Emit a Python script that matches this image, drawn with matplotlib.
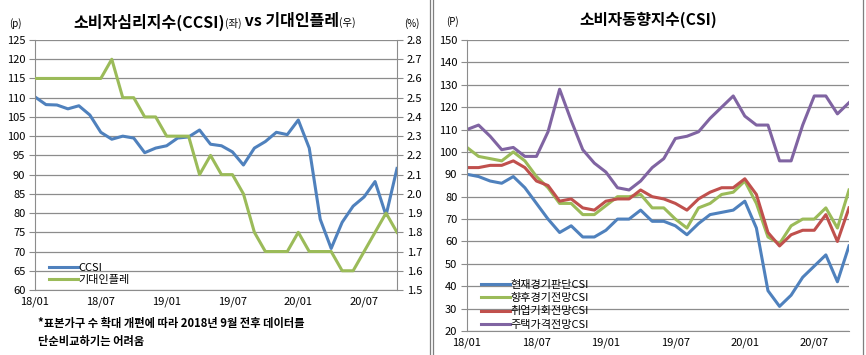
import matplotlib
matplotlib.use("Agg")
import matplotlib.pyplot as plt
import numpy as np

plt.rcParams['font.family'] = ['Noto Sans CJK KR', 'DejaVu Sans']

# months 2018/01 .. 2020/10
months = np.arange(34)
tick_pos = [0, 6, 12, 18, 24, 30]
tick_labels = ['18/01', '18/07', '19/01', '19/07', '20/01', '20/07']

ccsi = [110.2, 108.2, 108.1, 107.1, 107.9, 105.5, 101.0, 99.2, 100.0, 99.5, 95.7, 96.9,
        97.5, 99.5, 99.8, 101.6, 97.9, 97.5, 95.9, 92.5, 96.9, 98.6, 101.0, 100.4,
        104.2, 96.9, 78.4, 70.8, 77.6, 81.8, 84.2, 88.2, 79.4, 91.6]
exp_infl = [2.6, 2.6, 2.6, 2.6, 2.6, 2.6, 2.6, 2.7, 2.5, 2.5, 2.4, 2.4,
            2.3, 2.3, 2.3, 2.1, 2.2, 2.1, 2.1, 2.0, 1.8, 1.7, 1.7, 1.7,
            1.8, 1.7, 1.7, 1.7, 1.6, 1.6, 1.7, 1.8, 1.9, 1.8]

cur_econ = [90, 89, 87, 86, 89, 84, 77, 70, 64, 67, 62, 62,
            65, 70, 70, 74, 69, 69, 67, 63, 68, 72, 73, 74,
            78, 66, 38, 31, 36, 44, 49, 54, 42, 58]
fut_econ = [102, 98, 97, 96, 100, 96, 89, 84, 77, 77, 72, 72,
            76, 80, 80, 81, 75, 75, 70, 66, 75, 77, 81, 82,
            87, 77, 62, 59, 67, 70, 70, 75, 66, 83]
jobs = [93, 93, 94, 94, 96, 93, 87, 85, 78, 79, 75, 74,
        78, 79, 79, 83, 80, 79, 77, 74, 79, 82, 84, 84,
        88, 81, 64, 58, 63, 65, 65, 72, 60, 75]
housing = [110, 112, 107, 101, 102, 98, 98, 109, 128, 114, 101, 95,
           91, 84, 83, 87, 93, 97, 106, 107, 109, 115, 120, 125,
           116, 112, 112, 96, 96, 112, 125, 125, 117, 122]

BLUE = '#4F81BD'
GREEN = '#9BBB59'
RED = '#C0504D'
PURPLE = '#8064A2'
GRID = '#8c8c8c'

W, H = 866, 355
fig = plt.figure(figsize=(W / 100, H / 100), dpi=100)


def px_axes(x0, y0, x1, y1):
  return fig.add_axes([x0 / W, 1 - y1 / H, (x1 - x0) / W, (y1 - y0) / H])


def style(ax):
  ax.set_xlim(0, 33)
  ax.set_xticks(tick_pos)
  ax.set_xticklabels(tick_labels)
  ax.grid(axis='y', color=GRID, linewidth=0.9)
  ax.set_axisbelow(True)
  ax.spines['top'].set_visible(False)
  for s in ['left', 'right', 'bottom']:
    ax.spines[s].set_color(GRID)
  ax.tick_params(axis='x', length=0, labelsize=8, pad=5)
  ax.tick_params(axis='y', length=4, color=GRID, labelsize=8, pad=3)


# ---- left panel
ax1 = px_axes(35, 40, 397, 290)
style(ax1)
ax1.set_ylim(60, 125)
ax1.set_yticks(np.arange(60, 126, 5))
l1, = ax1.plot(months, ccsi, color=BLUE, lw=2.2)
ax1b = ax1.twinx()
ax1b.set_ylim(1.5, 2.8)
rticks = np.arange(1.5, 2.81, 0.1)
ax1b.set_yticks(rticks)
ax1b.set_yticklabels(['%.1f' % v for v in rticks])
ax1b.tick_params(axis='y', length=4, color=GRID, labelsize=8, pad=3)
for s in ax1b.spines.values():
  s.set_visible(False)
l2, = ax1b.plot(months, exp_infl, color=GREEN, lw=2.2)
ax1b.legend([l1, l2], ['CCSI', '기대인플레'], loc='lower left', bbox_to_anchor=(0.01, -0.02),
            frameon=False, handlelength=2.6, handletextpad=0.1, labelspacing=0.15,
            fontsize=8)

fig.text(15 / W, 1 - 24 / H, '(p)', fontsize=7, ha='center', va='center')
fig.text(412 / W, 1 - 24 / H, '(%)', fontsize=7, ha='center', va='center')

# title pieces chained left to right
t1 = fig.text(73 / W, 1 - 22 / H, '소비자심리지수(CCSI)', fontsize=11.5, fontweight='bold', va='center')
t2 = ax1.annotate('(좌)', xy=(1, 0.08), xycoords=t1, va='bottom', fontsize=7.5)
t3 = ax1.annotate(' vs 기대인플레', xy=(1, 0), xycoords=t2, va='bottom', fontsize=11.5,
                  fontweight='bold')
ax1.annotate('(우)', xy=(1, 0.08), xycoords=t3, va='bottom', fontsize=7.5)

fig.text(38 / W, 1 - 324 / H, '*표본가구 수 확대 개편에 따라 2018년 9월 전후 데이터를',
         fontsize=8.1, fontweight='bold', va='center')
fig.text(38 / W, 1 - 342 / H, '단순비교하기는 어려움', fontsize=8.1, fontweight='bold', va='center')

# ---- right panel
ax2 = px_axes(467, 40, 849, 331)
style(ax2)
ax2.spines['right'].set_visible(False)
ax2.set_ylim(20, 150)
ax2.set_yticks(np.arange(20, 151, 10))
ax2.plot(months, cur_econ, color=BLUE, lw=2.2, label='현재경기판단CSI')
ax2.plot(months, fut_econ, color=GREEN, lw=2.2, label='향후경기전망CSI')
ax2.plot(months, jobs, color=RED, lw=2.2, label='취업기회전망CSI')
ax2.plot(months, housing, color=PURPLE, lw=2.2, label='주택가격전망CSI')
ax2.legend(loc='lower left', bbox_to_anchor=(0.01, -0.03), frameon=False, handlelength=2.6,
           handletextpad=0.1, labelspacing=0.3, fontsize=8)

fig.text(452 / W, 1 - 22 / H, '(P)', fontsize=7, ha='center', va='center')
fig.text(648 / W, 1 - 20 / H, '소비자동향지수(CSI)', fontsize=11.3, fontweight='bold',
         ha='center', va='center')

# panel borders
for x in [430, 433, 863]:
  fig.add_artist(plt.Line2D([x / W, x / W], [0, 1], color='#7f7f7f', lw=0.9))

fig.savefig('out.png', dpi=100)
